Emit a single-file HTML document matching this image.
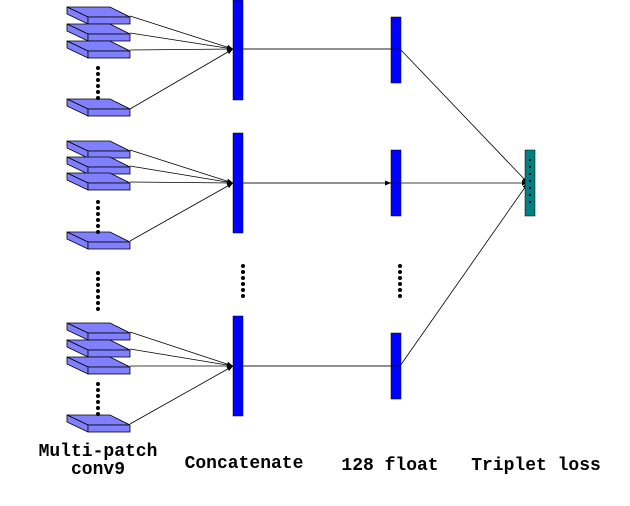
<!DOCTYPE html>
<html><head><style>html,body{margin:0;padding:0;background:#fff}svg{display:block}</style></head><body>
<svg width="630" height="506" viewBox="0 0 630 506" xmlns="http://www.w3.org/2000/svg">
<defs>
<g id="slab" stroke="#000" stroke-width="0.8" fill="#8080ff">
<polygon points="0,0 43,0 63,10 21,10"/>
<polygon points="0,0 21,10 21,17 0,7"/>
<rect x="21" y="10" width="42" height="7"/>
</g>
<marker id="ar" markerWidth="6" markerHeight="6" refX="6" refY="3" orient="auto" markerUnits="userSpaceOnUse"><path d="M0,0.5 L6,3 L0,5.5z" fill="#000"/></marker>
</defs>
<g stroke="#000" stroke-width="0.8" fill="none" marker-end="url(#ar)">
<line x1="130" y1="16" x2="233" y2="49"/><line x1="130" y1="33" x2="233" y2="49"/><line x1="130" y1="50" x2="233" y2="49"/><line x1="130" y1="109" x2="233" y2="49"/>
<line x1="130" y1="150" x2="233" y2="183"/><line x1="130" y1="166" x2="233" y2="183"/><line x1="130" y1="182" x2="233" y2="183"/><line x1="130" y1="241" x2="233" y2="183"/>
<line x1="130" y1="332" x2="233" y2="366"/><line x1="130" y1="349" x2="233" y2="366"/><line x1="130" y1="366" x2="233" y2="366"/><line x1="130" y1="424" x2="233" y2="366"/>
<line x1="238" y1="49" x2="400" y2="49"/><line x1="238" y1="183" x2="391" y2="183"/><line x1="238" y1="366" x2="400" y2="366"/>
<line x1="400" y1="49" x2="528" y2="183"/><line x1="400" y1="183" x2="528" y2="183"/><line x1="400" y1="366" x2="528" y2="183"/>
</g>
<use href="#slab" x="67" y="7"/><use href="#slab" x="67" y="24"/><use href="#slab" x="67" y="41"/><use href="#slab" x="67" y="99"/>
<use href="#slab" x="67" y="141"/><use href="#slab" x="67" y="157"/><use href="#slab" x="67" y="173"/><use href="#slab" x="67" y="232"/>
<use href="#slab" x="67" y="323"/><use href="#slab" x="67" y="340"/><use href="#slab" x="67" y="357"/><use href="#slab" x="67" y="415"/>
<g fill="#0000ff" stroke="#000" stroke-width="0.5">
<rect x="233" y="0" width="10" height="100"/><rect x="233" y="133" width="10" height="100"/><rect x="233" y="316" width="10" height="100"/>
<rect x="391" y="17" width="10" height="66"/><rect x="391" y="150" width="10" height="66"/><rect x="391" y="333" width="10" height="66"/>
</g>
<rect x="525" y="150" width="10" height="66" fill="#008080" stroke="#000" stroke-width="0.5"/>
<g stroke="#000" stroke-width="0.6" fill="none">
<line x1="238" y1="49" x2="400" y2="49"/><line x1="238" y1="183" x2="400" y2="183"/><line x1="238" y1="366" x2="400" y2="366"/>
</g>
<g fill="#000">
<circle cx="98" cy="68" r="2"/><circle cx="98" cy="74" r="2"/><circle cx="98" cy="80" r="2"/><circle cx="98" cy="86" r="2"/><circle cx="98" cy="92" r="2"/><circle cx="98" cy="98" r="2"/>
<circle cx="98" cy="202" r="2"/><circle cx="98" cy="208" r="2"/><circle cx="98" cy="214" r="2"/><circle cx="98" cy="220" r="2"/><circle cx="98" cy="226" r="2"/><circle cx="98" cy="232" r="2"/>
<circle cx="98" cy="384" r="2"/><circle cx="98" cy="390" r="2"/><circle cx="98" cy="396" r="2"/><circle cx="98" cy="402" r="2"/><circle cx="98" cy="408" r="2"/><circle cx="98" cy="414" r="2"/>
<circle cx="98" cy="273" r="2"/><circle cx="98" cy="279" r="2"/><circle cx="98" cy="285" r="2"/><circle cx="98" cy="291" r="2"/><circle cx="98" cy="297" r="2"/><circle cx="98" cy="303" r="2"/><circle cx="98" cy="309" r="2"/>
<circle cx="243" cy="266" r="2"/><circle cx="243" cy="272" r="2"/><circle cx="243" cy="278" r="2"/><circle cx="243" cy="284" r="2"/><circle cx="243" cy="290" r="2"/><circle cx="243" cy="296" r="2"/>
<circle cx="400" cy="266" r="2"/><circle cx="400" cy="272" r="2"/><circle cx="400" cy="278" r="2"/><circle cx="400" cy="284" r="2"/><circle cx="400" cy="290" r="2"/><circle cx="400" cy="296" r="2"/>
<circle cx="530" cy="160" r="1.2"/><circle cx="530" cy="167" r="1.2"/><circle cx="530" cy="174" r="1.2"/><circle cx="530" cy="181" r="1.2"/><circle cx="530" cy="188" r="1.2"/><circle cx="530" cy="195" r="1.2"/><circle cx="530" cy="202" r="1.2"/>
</g>
<g font-family="'Liberation Mono', monospace" font-weight="bold" font-size="18" fill="#000">
<text x="98" y="456" text-anchor="middle">Multi-patch</text>
<text x="98" y="474" text-anchor="middle">conv9</text>
<text x="244" y="468" text-anchor="middle">Concatenate</text>
<text x="390" y="470" text-anchor="middle">128 float</text>
<text x="536" y="470" text-anchor="middle">Triplet loss</text>
</g>
</svg>
</body></html>
